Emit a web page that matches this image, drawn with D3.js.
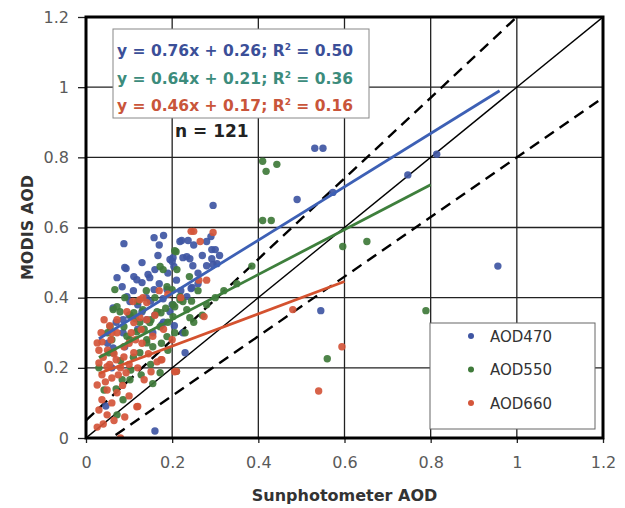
<!DOCTYPE html>
<html>
<head>
<meta charset="utf-8">
<script src="https://cdn.jsdelivr.net/npm/d3@7"></script>
<style>
  body { margin: 0; background: #fff; }
  text { font-family: "DejaVu Sans", Verdana, sans-serif; }
</style>
</head>
<body>
<div id="chart"></div>
<script>
// tick values
var xTicks = [0, 0.2, 0.4, 0.6, 0.8, 1, 1.2];
var yTicks = [0, 0.2, 0.4, 0.6, 0.8, 1, 1.2];

// sunphotometer AOD vs MODIS AOD, [x, y]
var aod470 = [
  [0.295,0.663],[0.531,0.826],[0.55,0.826],[0.814,0.809],[0.747,0.75],[0.956,0.49],[0.545,0.363],[0.49,0.68],[0.573,0.70],[0.16,0.02],
  [0.088,0.554],[0.158,0.571],[0.18,0.577],[0.167,0.52],[0.093,0.483],[0.072,0.457],[0.111,0.46],[0.118,0.451],[0.144,0.466],[0.148,0.457],
  [0.084,0.431],[0.13,0.443],[0.195,0.509],[0.158,0.423],[0.222,0.563],[0.237,0.563],[0.29,0.574],[0.292,0.537],[0.3,0.537],[0.292,0.511],
  [0.202,0.514],[0.225,0.514],[0.241,0.511],[0.2,0.503],[0.248,0.491],[0.28,0.491],[0.304,0.497],[0.204,0.489],[0.244,0.426],[0.179,0.397],
  [0.188,0.423],[0.218,0.56],[0.234,0.517],[0.295,0.494],[0.246,0.429],[0.09,0.486],[0.095,0.403],[0.063,0.371],[0.102,0.389],[0.16,0.351],
  [0.141,0.337],[0.234,0.403],[0.195,0.36],[0.225,0.3],[0.176,0.323],[0.086,0.3],[0.063,0.257],[0.046,0.091],[0.23,0.243],[0.086,0.337],
  [0.12,0.38],[0.14,0.40],[0.17,0.44],[0.21,0.45],[0.19,0.47],[0.26,0.47],[0.27,0.52],[0.16,0.48],[0.11,0.42],[0.13,0.36],
  [0.07,0.33],[0.1,0.35],[0.2,0.38],[0.22,0.42],[0.15,0.39],[0.05,0.27],[0.06,0.2],[0.12,0.31],[0.25,0.55],[0.28,0.56],
  [0.31,0.52],[0.17,0.55],[0.13,0.5],[0.26,0.44],[0.18,0.33],[0.09,0.26],[0.155,0.3],[0.205,0.32]
];
var aod550 = [
  [0.41,0.789],[0.418,0.76],[0.443,0.78],[0.41,0.62],[0.43,0.62],[0.652,0.56],[0.596,0.546],[0.789,0.363],[0.56,0.226],[0.385,0.49],
  [0.067,0.423],[0.172,0.489],[0.179,0.48],[0.209,0.531],[0.211,0.48],[0.188,0.431],[0.218,0.394],[0.206,0.374],[0.063,0.366],[0.079,0.36],
  [0.102,0.351],[0.132,0.366],[0.148,0.329],[0.118,0.303],[0.172,0.317],[0.202,0.346],[0.234,0.366],[0.188,0.289],[0.141,0.28],[0.102,0.28],
  [0.056,0.317],[0.125,0.243],[0.155,0.26],[0.172,0.186],[0.102,0.166],[0.086,0.109],[0.063,0.243],[0.206,0.3],[0.241,0.343],[0.206,0.534],
  [0.2,0.423],[0.218,0.403],[0.202,0.38],[0.225,0.389],[0.072,0.374],[0.111,0.357],[0.151,0.337],[0.174,0.357],[0.088,0.317],[0.141,0.271],
  [0.053,0.243],[0.104,0.194],[0.084,0.166],[0.128,0.18],[0.042,0.137],[0.072,0.066],[0.26,0.42],[0.28,0.38],[0.3,0.4],[0.25,0.33],
  [0.16,0.4],[0.14,0.42],[0.12,0.39],[0.09,0.4],[0.19,0.33],[0.23,0.3],[0.27,0.35],[0.05,0.3],[0.08,0.22],[0.11,0.23],
  [0.15,0.21],[0.19,0.25],[0.03,0.2],[0.32,0.42],[0.35,0.44],[0.24,0.46],[0.165,0.36],[0.125,0.33],[0.095,0.29],[0.07,0.14],
  [0.21,0.19],[0.155,0.155],[0.135,0.31],[0.185,0.37],[0.115,0.34],[0.245,0.39],[0.06,0.28],[0.175,0.27]
];
var aod660 = [
  [0.594,0.26],[0.54,0.134],[0.48,0.366],[0.08,0.0],[0.244,0.589],[0.25,0.589],[0.295,0.586],[0.265,0.56],[0.262,0.45],[0.28,0.45],
  [0.274,0.346],[0.21,0.19],[0.12,0.09],[0.176,0.223],[0.206,0.189],[0.132,0.4],
  [0.026,0.271],[0.037,0.274],[0.058,0.28],[0.072,0.3],[0.03,0.214],[0.049,0.203],[0.07,0.223],[0.088,0.231],[0.111,0.243],[0.037,0.18],
  [0.06,0.171],[0.093,0.186],[0.026,0.151],[0.049,0.137],[0.072,0.129],[0.037,0.109],[0.06,0.1],[0.03,0.08],[0.049,0.066],[0.026,0.031],
  [0.165,0.217],[0.151,0.189],[0.135,0.166],[0.118,0.089],[0.174,0.223],[0.035,0.3],[0.042,0.337],[0.072,0.337],[0.111,0.329],[0.128,0.309],
  [0.141,0.337],[0.088,0.26],[0.125,0.394],[0.109,0.389],[0.141,0.386],[0.125,0.343],
  [0.05,0.25],[0.065,0.24],[0.08,0.2],[0.1,0.21],[0.12,0.2],[0.1,0.27],[0.13,0.27],[0.155,0.29],[0.045,0.16],[0.085,0.15],
  [0.1,0.12],[0.065,0.05],[0.04,0.04],[0.09,0.06],[0.055,0.32],[0.16,0.35],[0.18,0.31],[0.2,0.28],[0.19,0.41],[0.17,0.42],
  [0.22,0.4],[0.095,0.36],[0.04,0.23],[0.115,0.28],[0.145,0.24],[0.06,0.3],[0.03,0.25],[0.075,0.18],[0.055,0.21],[0.105,0.3]
];

// regression fits: slope, intercept, x range
var fits = [
  {name: "AOD470", slope: 0.76, icept: 0.26, x0: 0.03, x1: 0.96, r2: "0.50"},
  {name: "AOD550", slope: 0.64, icept: 0.21, x0: 0.03, x1: 0.80, r2: "0.36"},
  {name: "AOD660", slope: 0.46, icept: 0.17, x0: 0.03, x1: 0.60, r2: "0.16"}
];
var seriesNames = ["AOD470", "AOD550", "AOD660"];
var nCount = 121;

var dotColor = {AOD470: "#3f56a3", AOD550: "#3f7a3a", AOD660: "#d4553a"};
var lineColor = {AOD470: "#3d60b5", AOD550: "#3e7f3c", AOD660: "#d4522f"};
var eqColor = {AOD470: "#3b4f98", AOD550: "#3c8c7c", AOD660: "#c9553a"};

var margin = {top: 17, right: 22, bottom: 70, left: 86},
    width = 625 - margin.left - margin.right,
    height = 508 - margin.top - margin.bottom;

var svg = d3.select("#chart").append("svg").attr("width", 625).attr("height", 508);
var g = svg.append("g").attr("transform", "translate(" + margin.left + "," + margin.top + ")");

var x = d3.scaleLinear().domain([0, 1.2]).range([0, width]);
var y = d3.scaleLinear().domain([0, 1.2]).range([height, 0]);
var fmt = function(d) { return String(+d.toFixed(1)); };

g.append("defs").append("clipPath").attr("id", "plotclip")
  .append("rect").attr("width", width).attr("height", height);

// grid
g.append("g").selectAll("line").data(xTicks).enter().append("line")
  .attr("x1", function(d) { return x(d); }).attr("x2", function(d) { return x(d); })
  .attr("y1", 0).attr("y2", height)
  .attr("stroke", "#222").attr("stroke-width", 1.3);
g.append("g").selectAll("line").data(yTicks).enter().append("line")
  .attr("y1", function(d) { return y(d); }).attr("y2", function(d) { return y(d); })
  .attr("x1", 0).attr("x2", width)
  .attr("stroke", "#222").attr("stroke-width", 1.3);

// axes
var xAxis = g.append("g").attr("transform", "translate(0," + height + ")")
  .call(d3.axisBottom(x).tickValues(xTicks).tickFormat(fmt).tickSize(5).tickPadding(14));
var yAxis = g.append("g")
  .call(d3.axisLeft(y).tickValues(yTicks).tickFormat(fmt).tickSize(8).tickPadding(9));
[xAxis, yAxis].forEach(function(a) {
  a.select(".domain").remove();
  a.selectAll(".tick line").attr("stroke", "#222").attr("stroke-width", 1.3);
  a.selectAll(".tick text").attr("fill", "#5a5a5a").style("font-size", "16px");
});

var plot = g.append("g").attr("clip-path", "url(#plotclip)");

// 1:1 line and expected error envelope
var line = d3.line().x(function(d) { return x(d[0]); }).y(function(d) { return y(d[1]); });
plot.append("path").datum([[0, 0], [1.2, 1.2]]).attr("d", line)
  .attr("stroke", "#000").attr("stroke-width", 1.4).attr("fill", "none");
plot.append("path").datum([[0, 0.05], [1.2, 1.2 * 1.15 + 0.05]]).attr("d", line)
  .attr("stroke", "#000").attr("stroke-width", 2.4).attr("stroke-dasharray", "11,7").attr("fill", "none");
plot.append("path").datum([[0, -0.05], [1.2, 1.2 * 0.85 - 0.05]]).attr("d", line)
  .attr("stroke", "#000").attr("stroke-width", 2.4).attr("stroke-dasharray", "11,7").attr("fill", "none");

// points
var allData = {AOD470: aod470, AOD550: aod550, AOD660: aod660};
seriesNames.forEach(function(name) {
  plot.append("g").selectAll("circle").data(allData[name]).enter().append("circle")
    .attr("cx", function(d) { return x(d[0]); })
    .attr("cy", function(d) { return y(d[1]); })
    .attr("r", 3.7)
    .attr("fill", dotColor[name])
    .attr("fill-opacity", 0.92);
});

// regression lines
fits.forEach(function(f) {
  plot.append("path")
    .datum([[f.x0, f.slope * f.x0 + f.icept], [f.x1, f.slope * f.x1 + f.icept]])
    .attr("d", line)
    .attr("stroke", lineColor[f.name]).attr("stroke-width", 2.8).attr("fill", "none");
});

// frame
g.append("rect").attr("width", width).attr("height", height)
  .attr("fill", "none").attr("stroke", "#000").attr("stroke-width", 3);

// equation box
var eq = svg.append("g");
eq.append("rect").attr("x", 113).attr("y", 29).attr("width", 256).attr("height", 89)
  .attr("fill", "#fff").attr("stroke", "#888").attr("stroke-width", 1);
fits.forEach(function(f, i) {
  var t = eq.append("text").attr("x", 117).attr("y", 56 + i * 27.5)
    .attr("fill", eqColor[f.name]).style("font-size", "15.5px").style("font-weight", "bold");
  t.append("tspan").text("y = " + f.slope.toFixed(2) + "x + " + f.icept.toFixed(2) + "; R");
  t.append("tspan").text("2").attr("dy", -6).style("font-size", "9px");
  t.append("tspan").text(" = " + f.r2).attr("dy", 6);
});
svg.append("text").attr("x", 175).attr("y", 137).attr("fill", "#222")
  .style("font-size", "17px").style("font-weight", "bold").text("n = " + nCount);

// legend
var leg = svg.append("g");
leg.append("rect").attr("x", 430).attr("y", 323).attr("width", 165).attr("height", 106)
  .attr("fill", "#fff").attr("stroke", "#666").attr("stroke-width", 1);
seriesNames.forEach(function(name, i) {
  var cy = 336 + i * 33.5;
  leg.append("circle").attr("cx", 471).attr("cy", cy).attr("r", 3).attr("fill", dotColor[name]);
  leg.append("text").attr("x", 490).attr("y", cy + 5.5).attr("fill", "#333")
    .style("font-size", "15px").text(name);
});

// axis titles
svg.append("text").attr("x", margin.left + width / 2).attr("y", 501).attr("text-anchor", "middle")
  .attr("fill", "#333").style("font-size", "16px").style("font-weight", "bold").text("Sunphotometer AOD");
svg.append("text").attr("transform", "translate(33," + (margin.top + height / 2) + ") rotate(-90)")
  .attr("text-anchor", "middle").attr("fill", "#333").style("font-size", "16px").style("font-weight", "bold")
  .text("MODIS AOD");
</script>
</body>
</html>
